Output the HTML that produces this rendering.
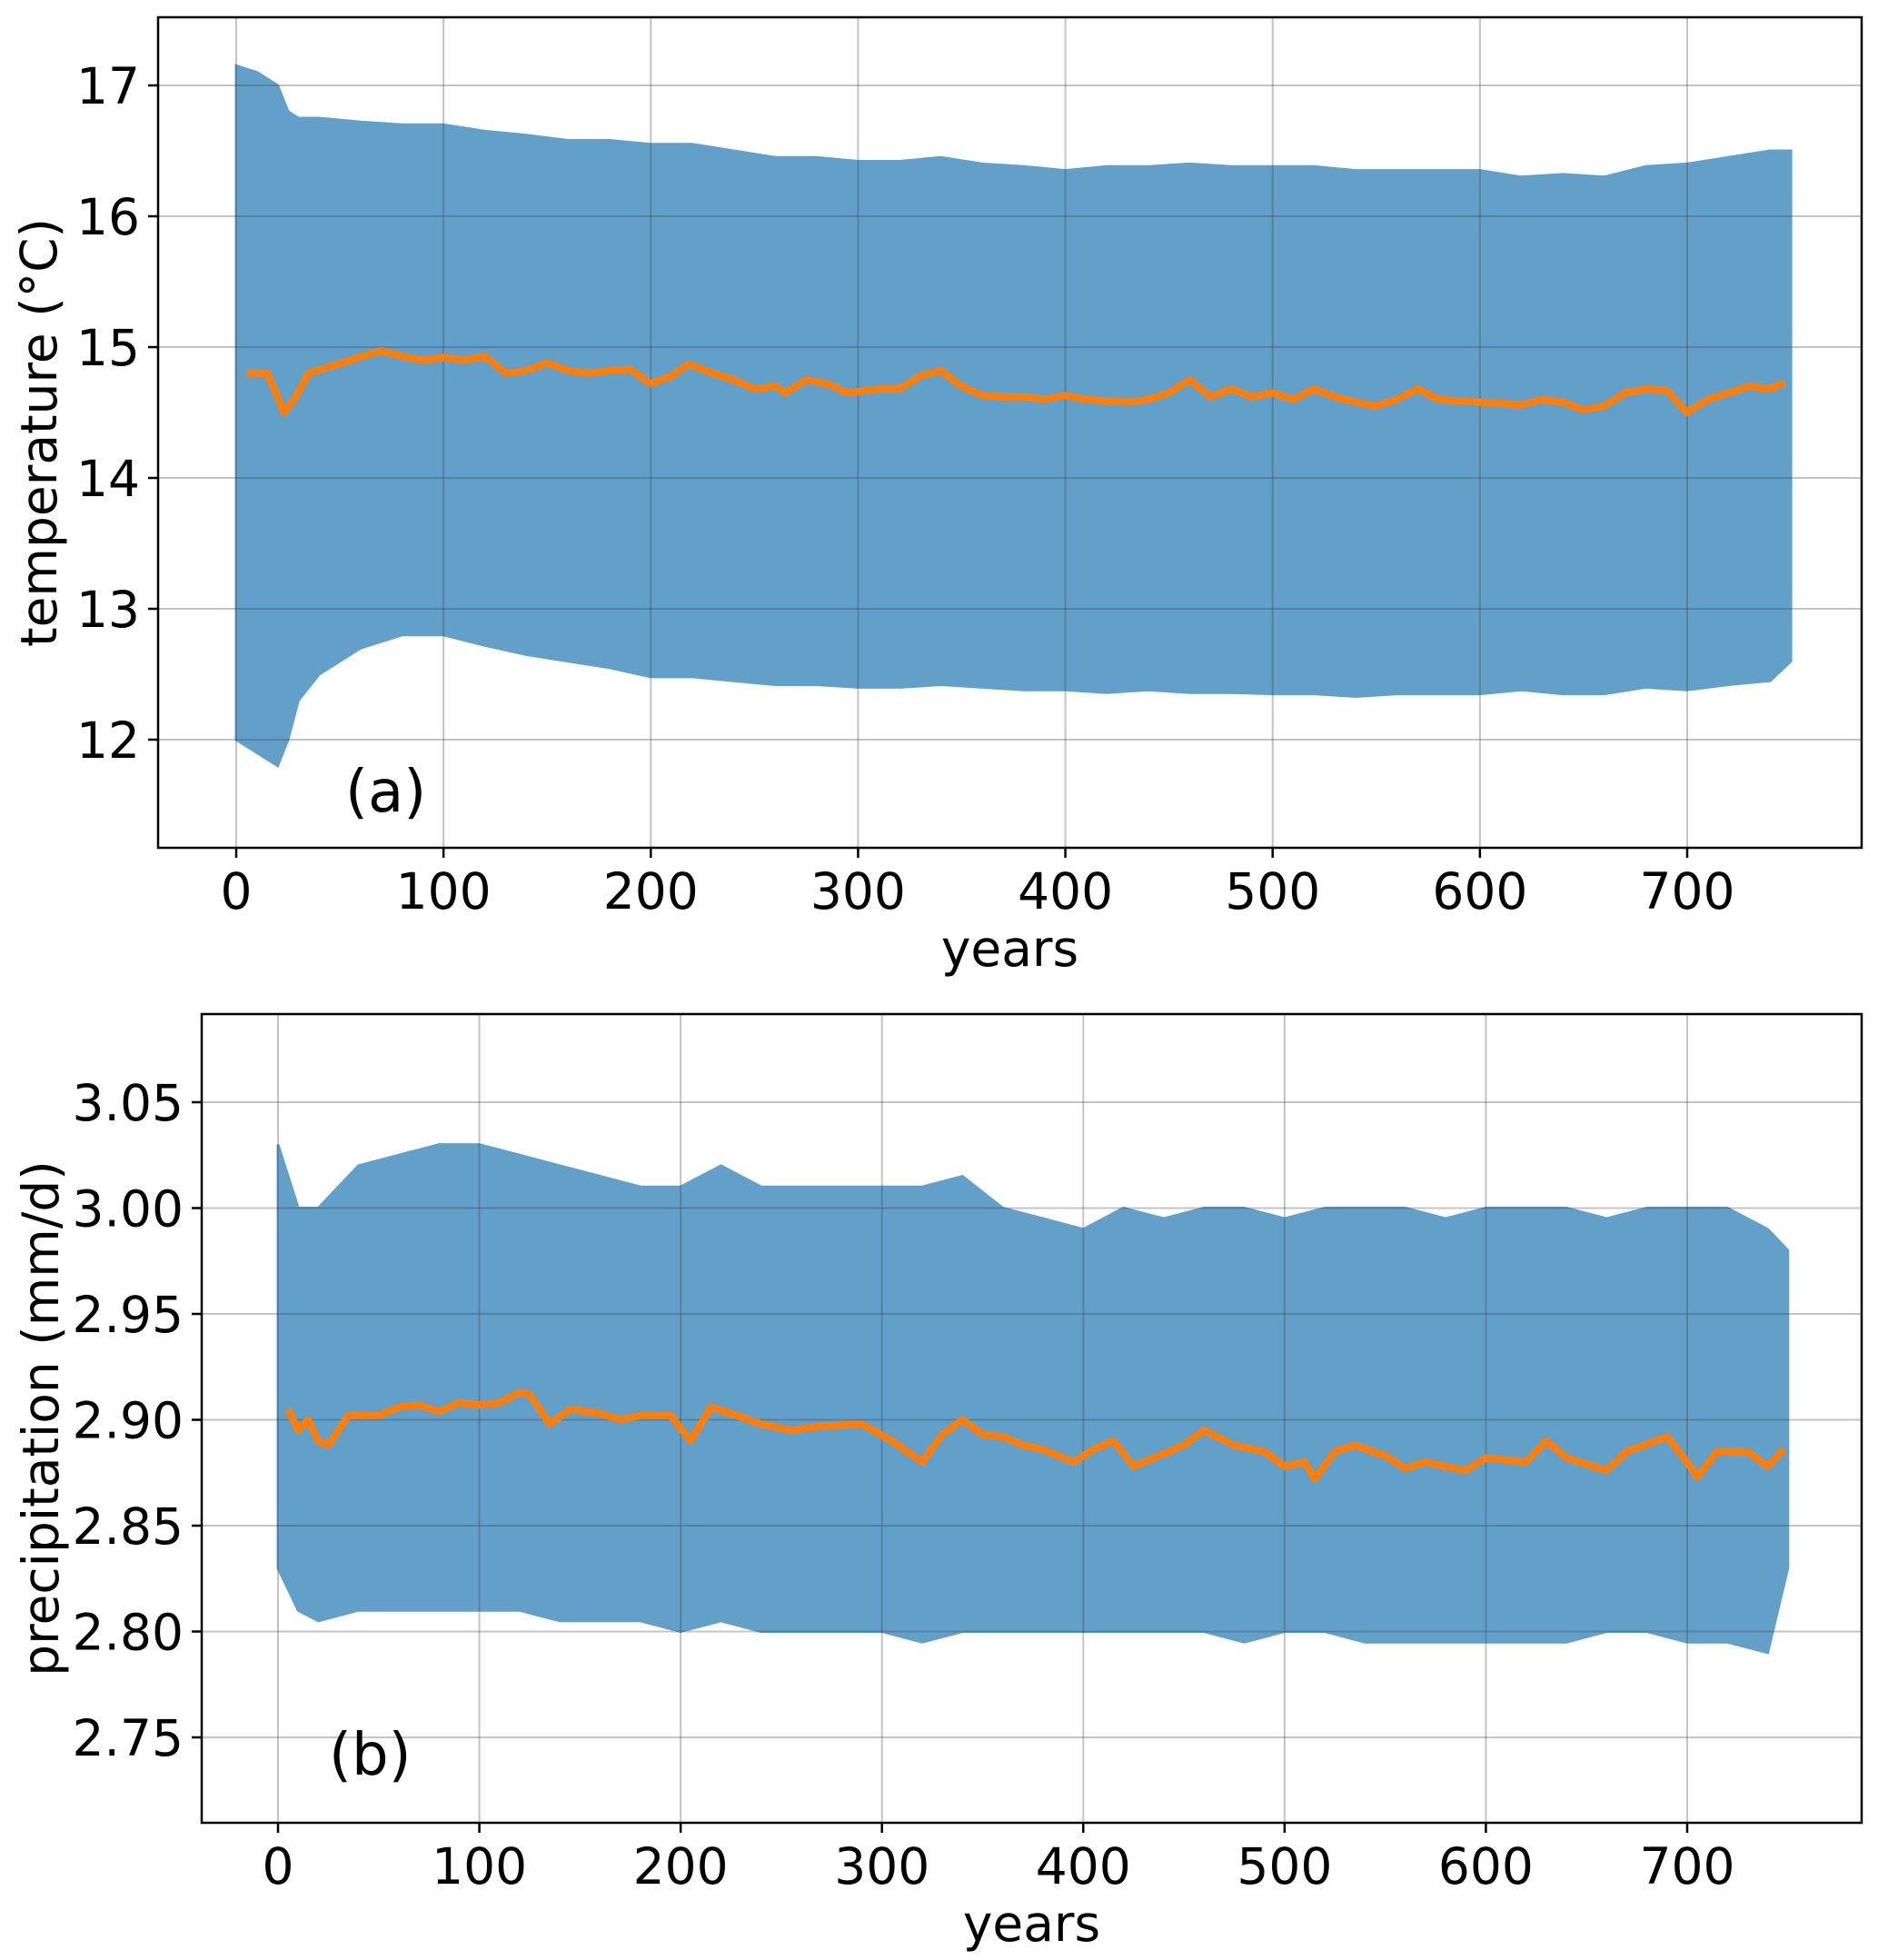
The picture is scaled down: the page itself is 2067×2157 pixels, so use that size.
<!DOCTYPE html>
<html><head><meta charset="utf-8"><style>
html,body{margin:0;padding:0;background:#fff;}
svg{display:block;font-family:"DejaVu Sans","Liberation Sans",sans-serif;}
</style></head><body>
<svg id="fig" width="2067" height="2157" viewBox="0 0 2067 2157"></svg>
<script>
// ---- data: panel (a) temperature ----
const tYears = [0,10,20,25,30,40,60,80,100,120,140,160,180,200,220,240,260,280,300,320,340,360,380,400,420,440,460,480,500,520,540,560,580,600,620,640,660,680,700,720,740,750];
const tUpper = [17.15,17.1,17.0,16.8,16.75,16.75,16.72,16.7,16.7,16.65,16.62,16.58,16.58,16.55,16.55,16.5,16.45,16.45,16.42,16.42,16.45,16.4,16.38,16.35,16.38,16.38,16.4,16.38,16.38,16.38,16.35,16.35,16.35,16.35,16.3,16.32,16.3,16.38,16.4,16.45,16.5,16.5];
const tLower = [12.0,11.9,11.8,12.0,12.3,12.5,12.7,12.8,12.8,12.72,12.65,12.6,12.55,12.48,12.48,12.45,12.42,12.42,12.4,12.4,12.42,12.4,12.38,12.38,12.36,12.38,12.36,12.36,12.35,12.35,12.33,12.35,12.35,12.35,12.38,12.35,12.35,12.4,12.38,12.42,12.45,12.6];
const tMeanYears = [5,10,15,20,23,28,35,45,55,65,70,80,90,100,110,120,130,140,150,160,170,180,190,200,210,218,230,240,250,260,265,275,285,295,310,320,330,340,350,360,370,380,390,400,410,430,440,450,460,470,480,490,500,510,520,530,540,550,560,570,580,600,620,630,640,650,660,670,680,690,700,710,720,730,740,747];
const tMean = [14.8,14.8,14.8,14.62,14.5,14.6,14.8,14.85,14.9,14.95,14.97,14.93,14.9,14.92,14.9,14.93,14.8,14.82,14.88,14.82,14.8,14.82,14.83,14.72,14.78,14.87,14.8,14.75,14.68,14.7,14.65,14.75,14.72,14.65,14.68,14.68,14.78,14.82,14.7,14.63,14.62,14.62,14.6,14.63,14.6,14.58,14.6,14.65,14.75,14.62,14.68,14.62,14.65,14.6,14.68,14.62,14.58,14.55,14.6,14.68,14.6,14.58,14.56,14.6,14.58,14.52,14.55,14.65,14.68,14.67,14.5,14.6,14.65,14.7,14.68,14.73];
const tTicksY = [12,13,14,15,16,17];
// ---- data: panel (b) precipitation ----
const pYears = [0,10,20,40,60,80,100,120,140,160,180,200,220,240,260,280,300,320,340,360,380,400,420,440,460,480,500,520,540,560,580,600,620,640,660,680,700,720,740,750];
const pUpper = [3.03,3.0,3.0,3.02,3.025,3.03,3.03,3.025,3.02,3.015,3.01,3.01,3.02,3.01,3.01,3.01,3.01,3.01,3.015,3.0,2.995,2.99,3.0,2.995,3.0,3.0,2.995,3.0,3.0,3.0,2.995,3.0,3.0,3.0,2.995,3.0,3.0,3.0,2.99,2.98];
const pLower = [2.83,2.81,2.805,2.81,2.81,2.81,2.81,2.81,2.805,2.805,2.805,2.8,2.805,2.8,2.8,2.8,2.8,2.795,2.8,2.8,2.8,2.8,2.8,2.8,2.8,2.795,2.8,2.8,2.795,2.795,2.795,2.795,2.795,2.795,2.8,2.8,2.795,2.795,2.79,2.83];
const pMeanYears = [5,10,15,20,25,35,50,60,70,80,90,100,110,120,125,135,145,160,170,180,195,205,215,225,240,255,270,290,305,320,330,340,350,360,370,380,395,405,415,425,440,450,460,475,490,500,510,515,525,535,550,560,570,590,600,620,630,640,660,670,690,700,705,715,730,740,748];
const pMean = [2.905,2.895,2.9,2.89,2.888,2.902,2.902,2.906,2.907,2.904,2.908,2.907,2.908,2.913,2.912,2.898,2.905,2.903,2.9,2.902,2.902,2.89,2.906,2.903,2.898,2.895,2.897,2.898,2.89,2.88,2.893,2.9,2.893,2.892,2.888,2.886,2.88,2.886,2.89,2.878,2.884,2.888,2.895,2.888,2.885,2.878,2.88,2.872,2.885,2.888,2.883,2.877,2.88,2.876,2.882,2.88,2.89,2.882,2.876,2.885,2.892,2.88,2.873,2.885,2.885,2.878,2.886];
const pTicksY = [2.75,2.80,2.85,2.90,2.95,3.00,3.05];
const xTicks = [0,100,200,300,400,500,600,700];

const NS="http://www.w3.org/2000/svg";
const svg=document.getElementById('fig');
function mk(tag,attrs,parent){const e=document.createElementNS(NS,tag);for(const k in attrs)e.setAttribute(k,attrs[k]);(parent||svg).appendChild(e);return e;}

function panel(cfg){
  const g=mk('g',{});
  
  
  const sx=v=>cfg.x0px+(v-0)*(cfg.x700px-cfg.x0px)/700;
  const sy=v=>cfg.ya_px+(v-cfg.ya)*(cfg.yb_px-cfg.ya_px)/(cfg.yb-cfg.ya);
  const clip='clip-'+cfg.name;
  const cp=mk('clipPath',{id:clip},g);mk('rect',{x:cfg.L,y:cfg.T,width:cfg.R-cfg.L,height:cfg.B-cfg.T},cp);
  let d='M'+cfg.bx.map((v,i)=>sx(v).toFixed(1)+','+sy(cfg.up[i]).toFixed(1)).join('L');
  for(let i=cfg.bx.length-1;i>=0;i--)d+='L'+sx(cfg.bx[i]).toFixed(1)+','+sy(cfg.lo[i]).toFixed(1);
  d+='Z';
  const band=mk('path',{d:d,fill:'#62a0ca',stroke:'#62a0ca','stroke-width':3,'clip-path':'url(#'+clip+')'},g);
  
  
  xTicks.forEach(t=>{const l=mk('line',{x1:sx(t),x2:sx(t),y1:cfg.T,y2:cfg.B,stroke:'rgba(60,60,60,0.3)','stroke-width':2},g);
    });
  cfg.yt.forEach(t=>{const l=mk('line',{x1:cfg.L,x2:cfg.R,y1:sy(t),y2:sy(t),stroke:'rgba(60,60,60,0.3)','stroke-width':2},g);
    });
  const m=mk('polyline',{points:cfg.mx.map((v,i)=>sx(v).toFixed(1)+','+sy(cfg.my[i]).toFixed(1)).join(' '),fill:'none',stroke:'#ff7f0e','stroke-width':8,'stroke-linejoin':'round'},g);
  
  
  const f=mk('rect',{x:cfg.L,y:cfg.T,width:cfg.R-cfg.L,height:cfg.B-cfg.T,fill:'none',stroke:'#000','stroke-width':2.5},g);
  
  xTicks.forEach(t=>{mk('line',{x1:sx(t),x2:sx(t),y1:cfg.B,y2:cfg.B+11,stroke:'#000','stroke-width':2.5},g);
    const tx=mk('text',{x:sx(t),y:cfg.B+67,'font-size':55,'text-anchor':'middle',fill:'#000'},g);tx.textContent=t;
    });
  cfg.yt.forEach(t=>{mk('line',{x1:cfg.L-11,x2:cfg.L,y1:sy(t),y2:sy(t),stroke:'#000','stroke-width':2.5},g);
    const tx=mk('text',{x:cfg.L-20,y:sy(t)+20,'font-size':55,'text-anchor':'end',fill:'#000'},g);tx.textContent=cfg.fmt(t);
    });
  const xl=mk('text',{x:(cfg.L+cfg.R)/2,y:cfg.B+130,'font-size':55,'text-anchor':'middle',fill:'#000'},g);xl.textContent='years';
  
  const yl=mk('text',{x:0,y:0,'font-size':55,'text-anchor':'middle',fill:'#000',transform:'translate('+cfg.ylx+','+(cfg.T+cfg.B)/2+') rotate(-90)'},g);yl.textContent=cfg.ylabel;
  
  const pl=mk('text',{x:cfg.plx,y:cfg.ply,'font-size':64,fill:'#000'},g);pl.textContent=cfg.panel;
  
}
panel({name:'temperature-panel',L:174,R:2049,T:19,B:933,x0px:260,x700px:1857,ya:12,yb:17,ya_px:814,yb_px:94,
  bx:tYears,up:tUpper,lo:tLower,mx:tMeanYears,my:tMean,yt:tTicksY,fmt:v=>String(v),
  ylabel:'temperature (°C)',ylx:62,panel:'(a)',plx:380,ply:893});
panel({name:'precipitation-panel',L:222,R:2049,T:1116,B:2006,x0px:306,x700px:1857,ya:2.75,yb:3.05,ya_px:1912,yb_px:1213,
  bx:pYears,up:pUpper,lo:pLower,mx:pMeanYears,my:pMean,yt:pTicksY,fmt:v=>v.toFixed(2),
  ylabel:'precipitation (mm/d)',ylx:64,panel:'(b)',plx:362,ply:1953});
</script>
</body></html>
